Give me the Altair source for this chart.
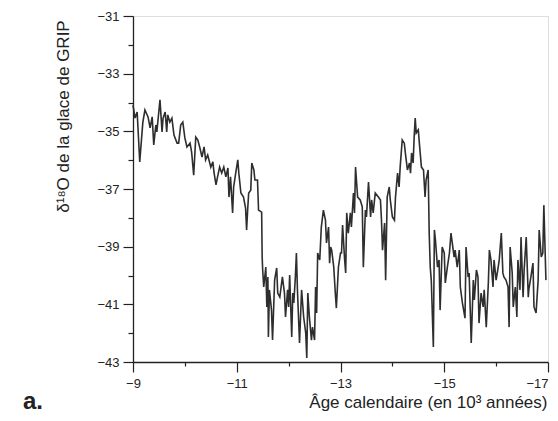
import altair as alt
import pandas as pd

# Age (10^3 years, calendar) and GRIP ice delta-18O (permil)
ages = [
    -9.00, -9.04, -9.08, -9.13, -9.19, -9.23, -9.29, -9.33, -9.37, -9.40,
    -9.44, -9.46, -9.52, -9.56, -9.58, -9.62, -9.65, -9.67, -9.71, -9.75,
    -9.79, -9.85, -9.88, -9.92, -9.96, -10.00, -10.04, -10.10, -10.13, -10.17,
    -10.21, -10.25, -10.29, -10.33, -10.37, -10.40, -10.44, -10.50, -10.54, -10.56,
    -10.60, -10.63, -10.67, -10.71, -10.75, -10.79, -10.83, -10.85, -10.88, -10.92,
    -10.94, -10.98, -11.02, -11.04, -11.08, -11.13, -11.17, -11.19, -11.21, -11.23,
    -11.27, -11.29, -11.33, -11.35, -11.40, -11.42, -11.48, -11.49, -11.50, -11.52,
    -11.56, -11.58, -11.60, -11.61, -11.63, -11.67, -11.69, -11.73, -11.77, -11.79,
    -11.83, -11.88, -11.92, -11.94, -11.98, -12.00, -12.02, -12.06, -12.08, -12.10,
    -12.13, -12.15, -12.17, -12.21, -12.25, -12.29, -12.33, -12.35, -12.37, -12.40,
    -12.44, -12.46, -12.50, -12.52, -12.54, -12.56, -12.60, -12.63, -12.67, -12.71,
    -12.73, -12.77, -12.79, -12.81, -12.83, -12.87, -12.90, -12.92, -12.96, -13.00,
    -13.02, -13.04, -13.08, -13.10, -13.12, -13.15, -13.19, -13.21, -13.25, -13.27,
    -13.29, -13.33, -13.38, -13.42, -13.44, -13.48, -13.50, -13.54, -13.58, -13.60,
    -13.63, -13.67, -13.73, -13.77, -13.79, -13.81, -13.85, -13.87, -13.88, -13.90,
    -13.94, -13.96, -14.00, -14.04, -14.06, -14.10, -14.13, -14.15, -14.19, -14.23,
    -14.25, -14.29, -14.33, -14.35, -14.37, -14.40, -14.42, -14.44, -14.46, -14.50,
    -14.52, -14.56, -14.60, -14.63, -14.65, -14.69, -14.71, -14.73, -14.75, -14.79,
    -14.81, -14.83, -14.87, -14.90, -14.92, -14.96, -15.00, -15.02, -15.06, -15.10,
    -15.13, -15.19, -15.21, -15.25, -15.29, -15.31, -15.35, -15.40, -15.42, -15.46,
    -15.48, -15.52, -15.56, -15.58, -15.62, -15.65, -15.67, -15.71, -15.75, -15.77,
    -15.81, -15.85, -15.87, -15.90, -15.94, -15.96, -16.00, -16.04, -16.06, -16.10,
    -16.13, -16.15, -16.19, -16.23, -16.25, -16.27, -16.31, -16.33, -16.37, -16.40,
    -16.42, -16.46, -16.48, -16.52, -16.54, -16.58, -16.62, -16.63, -16.67, -16.71,
    -16.73, -16.77, -16.81, -16.83, -16.87, -16.90, -16.92, -16.96,
]

d18o = [
    -34.09, -34.54, -34.33, -36.06, -34.68, -34.26, -34.50, -34.88, -34.50, -35.47,
    -34.78, -35.02, -33.91, -35.02, -34.54, -34.33, -35.02, -34.43, -34.68, -34.54,
    -35.13, -35.41, -35.41, -34.78, -34.68, -35.23, -35.54, -35.41, -35.72, -36.52,
    -35.20, -35.30, -35.58, -35.89, -35.54, -35.99, -35.82, -36.24, -36.06, -36.41,
    -36.86, -36.58, -36.24, -36.45, -36.24, -36.58, -36.27, -37.28, -36.58, -37.83,
    -36.93, -36.45, -35.99, -36.45, -37.14, -37.28, -37.66, -38.42, -37.73, -37.14,
    -37.04, -36.10, -36.34, -36.69, -36.69, -37.73, -37.80, -39.36, -39.81, -40.40,
    -39.71, -41.09, -40.05, -42.13, -40.50, -41.20, -42.24, -40.16, -39.74, -40.61,
    -40.75, -40.05, -40.61, -41.44, -40.50, -41.09, -39.98, -42.13, -40.61, -40.95,
    -40.05, -39.22, -40.50, -42.34, -40.50, -41.44, -42.00, -42.86, -40.61, -41.44,
    -42.24, -41.79, -42.24, -40.40, -41.30, -39.22, -39.46, -38.32, -37.73, -38.08,
    -38.87, -38.32, -39.57, -39.01, -39.12, -39.71, -40.61, -41.13, -39.71, -39.22,
    -39.22, -38.25, -39.46, -39.91, -37.83, -38.53, -37.83, -38.32, -37.14, -37.83,
    -36.24, -37.28, -37.38, -37.62, -39.71, -37.73, -37.97, -36.76, -37.97, -37.38,
    -37.83, -37.14, -37.28, -37.38, -38.08, -39.12, -38.18, -40.16, -39.22, -37.28,
    -36.93, -37.38, -37.97, -38.08, -37.28, -36.45, -36.93, -36.24, -35.30, -35.41,
    -35.75, -36.34, -36.10, -36.45, -35.75, -36.10, -35.20, -34.54, -35.06, -34.95,
    -35.41, -36.24, -36.34, -37.28, -36.69, -36.34, -38.53, -39.71, -40.16, -42.48,
    -38.42, -38.77, -39.71, -39.46, -41.20, -39.01, -39.22, -40.26, -39.71, -39.22,
    -38.53, -39.36, -39.12, -39.71, -39.12, -40.40, -40.95, -41.48, -39.01, -40.05,
    -39.91, -42.34, -40.16, -40.85, -39.81, -40.05, -41.65, -40.61, -41.09, -40.50,
    -41.79, -40.26, -39.12, -39.46, -40.40, -39.46, -40.16, -39.71, -39.46, -38.53,
    -39.91, -40.05, -40.16, -40.40, -41.79, -39.01, -39.91, -41.09, -40.40, -41.44,
    -39.46, -40.50, -38.67, -40.75, -39.81, -38.67, -40.75, -40.50, -40.05, -39.57,
    -41.09, -41.30, -40.16, -38.42, -39.36, -39.22, -37.56, -40.16,
]

x_ticks = list(range(-17, -8))
y_ticks = list(range(-43, -30))

df = pd.DataFrame({"age": ages, "d18o": d18o})

FONT = "Liberation Sans"
INK = "#222222"

odd_test = "datum.value % 2 != 0"

chart = (
    alt.Chart(df)
    .mark_line(color="#2e2e2e", strokeWidth=1.6, interpolate="linear")
    .encode(
        x=alt.X(
            "age:Q",
            scale=alt.Scale(domain=[-17, -9], reverse=True, nice=False, zero=False),
            axis=alt.Axis(
                values=x_ticks,
                labelExpr=f"{odd_test} ? datum.label : ''",
                labelAlign={"condition": {"test": "datum.value == -17", "value": "right"}, "value": "center"},
                tickSize={"condition": {"test": odd_test, "value": 10}, "value": 4},
                tickColor=INK,
                tickWidth=1.2,
                domainColor=INK,
                domainWidth=1.3,
                labelFont=FONT,
                labelFontSize=13,
                labelColor=INK,
                labelPadding=5,
                labelFlush=False,
                grid=False,
                title="Âge calendaire (en 10³ années)",
                titleFont=FONT,
                titleFontSize=17,
                titleFontWeight="normal",
                titleColor=INK,
                titleAnchor="end",
                titleAlign="right",
                titleBaseline="alphabetic",
                titleX=414,
                titleY=45,
            ),
        ),
        y=alt.Y(
            "d18o:Q",
            scale=alt.Scale(domain=[-43, -31], nice=False, zero=False),
            axis=alt.Axis(
                values=y_ticks,
                labelExpr=f"{odd_test} ? datum.label : ''",
                tickSize={"condition": {"test": odd_test, "value": 10}, "value": 5},
                tickColor=INK,
                tickWidth=1.2,
                domainColor=INK,
                domainWidth=1.3,
                labelFont=FONT,
                labelFontSize=13,
                labelColor=INK,
                labelPadding=4,
                grid=False,
                title="δ¹⁸O de la glace de GRIP",
                titleFont=FONT,
                titleFontSize=17,
                titleFontWeight="normal",
                titleColor=INK,
                titleAngle=270,
                titleAlign="center",
                titleBaseline="alphabetic",
                titleX=-65,
                titleY=100,
            ),
        ),
    )
    .properties(
        width=415,
        height=346,
        padding={"left": 125, "top": 8, "right": 2, "bottom": 51},
        autosize=alt.AutoSizeParams(type="none"),
        title=alt.TitleParams(
            "a.",
            orient="bottom",
            anchor="start",
            frame="group",
            font=FONT,
            fontSize=24,
            fontWeight="bold",
            color=INK,
            dx=-110,
            dy=-24,
        ),
    )
    .configure_view(stroke=INK, strokeWidth=1.2)
    .configure(background="white")
)

chart.save("out.html", embed_options={"renderer": "svg", "actions": False})
